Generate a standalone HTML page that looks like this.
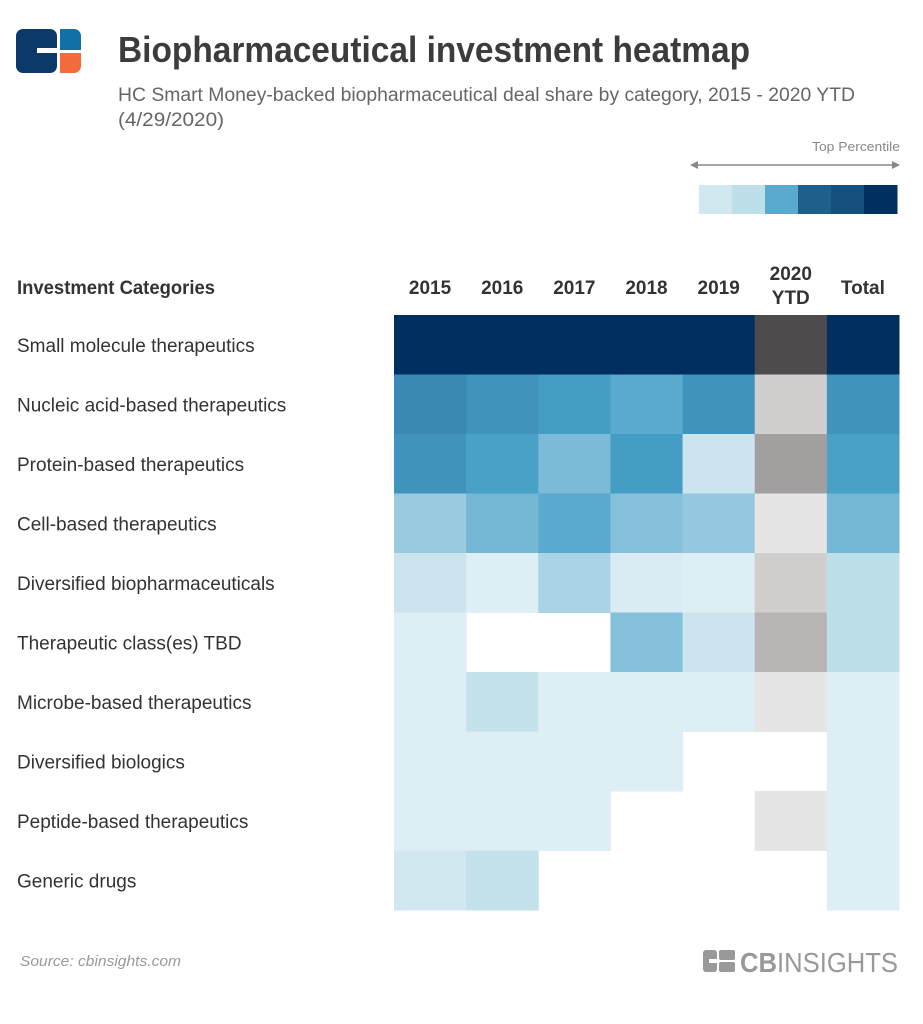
<!DOCTYPE html>
<html><head><meta charset="utf-8"><style>
html,body{margin:0;padding:0;background:#fff;}
svg{display:block;font-family:"Liberation Sans",sans-serif;}
</style></head><body>
<svg id="chart" width="923" height="1024" viewBox="0 0 923 1024">
  <g>
    <rect x="16" y="29" width="41" height="44" rx="7" fill="#0b3a6a"/>
    <rect x="37" y="48" width="21" height="5" fill="#fff"/>
    <path d="M60 29 h14 a7 7 0 0 1 7 7 v14 h-21 z" fill="#1170a8"/>
    <path d="M60 53 h21 v13 a7 7 0 0 1 -7 7 h-14 z" fill="#f26b3a"/>
  </g>
  <text x="118" y="62" font-size="36" font-weight="bold" fill="#3c3c3c" textLength="632" lengthAdjust="spacingAndGlyphs">Biopharmaceutical investment heatmap</text>
  <text x="118" y="101" font-size="19" fill="#666" textLength="737" lengthAdjust="spacingAndGlyphs">HC Smart Money-backed biopharmaceutical deal share by category, 2015 - 2020 YTD</text>
  <text x="118" y="126" font-size="19" fill="#666" textLength="106" lengthAdjust="spacingAndGlyphs">(4/29/2020)</text>

  <g>
    <text x="900" y="151" font-size="13" fill="#888" text-anchor="end" textLength="88" lengthAdjust="spacingAndGlyphs">Top Percentile</text>
    <line x1="696" y1="165" x2="894" y2="165" stroke="#888" stroke-width="1.5"/>
    <path d="M690 165 l8 -4 v8 z M900 165 l-8 -4 v8 z" fill="#888"/>
    <g id="legendBoxes"></g>
  </g>

  <g id="grid"></g>
  <g id="labels"></g>

  <text x="20" y="966" font-size="15" font-style="italic" fill="#999" textLength="161" lengthAdjust="spacingAndGlyphs">Source: cbinsights.com</text>
  <g>
    <rect x="703" y="950" width="14" height="22" rx="3" fill="#999"/>
    <rect x="719" y="950" width="16" height="10" rx="2" fill="#999"/>
    <rect x="719" y="962" width="16" height="10" rx="2" fill="#999"/>
    <rect x="709" y="959" width="10" height="4" fill="#fff"/>
    <text x="740" y="972" font-size="28" fill="#999" textLength="158" lengthAdjust="spacingAndGlyphs"><tspan font-weight="bold">CB</tspan>INSIGHTS</text>
  </g>
</svg>
<script>
const categories = ["Small molecule therapeutics","Nucleic acid-based therapeutics","Protein-based therapeutics","Cell-based therapeutics","Diversified biopharmaceuticals","Therapeutic class(es) TBD","Microbe-based therapeutics","Diversified biologics","Peptide-based therapeutics","Generic drugs"];
const years = ["2015","2016","2017","2018","2019","2020 YTD","Total"];
// intensity values (null = no deals), columns follow `years`
const v2015 = [100,70,65,35,18,10,10,10,10,15];
const v2016 = [100,65,60,47,10,null,20,10,10,20];
const v2017 = [100,62,45,55,30,null,10,10,10,null];
const v2018 = [100,55,62,42,12,42,10,10,null,null];
const v2019 = [100,65,18,36,10,18,10,null,null,null];
const v2020 = [100,30,50,15,30,40,15,null,15,null];
const vTotal = [100,65,60,47,22,22,10,10,10,10];
const series = [v2015,v2016,v2017,v2018,v2019,v2020,vTotal];
const legendLevels = [15,22,55,80,90,100];

const blueStops = [[10,"#ddeef5"],[18,"#cce4ee"],[22,"#bcdfea"],[30,"#aad3e5"],[36,"#95c8df"],[42,"#84c0da"],[47,"#75b8d6"],[55,"#5aaacf"],[62,"#449dc5"],[65,"#3f93bc"],[70,"#3a88b3"],[80,"#1e5f8c"],[90,"#144f7e"],[100,"#00305f"]];
const greyStops = [[15,"#e5e5e5"],[30,"#d0cfce"],[40,"#b8b4b4"],[50,"#a29f9f"],[100,"#4d4b4b"]];
function hex(c){return [1,3,5].map(i=>parseInt(c.substr(i,2),16));}
function scale(stops,v){
  if(v<=stops[0][0]) return stops[0][1];
  for(let i=1;i<stops.length;i++){
    if(v<=stops[i][0]){
      const [a,ca]=stops[i-1],[b,cb]=stops[i];const t=(v-a)/(b-a);
      const A=hex(ca),B=hex(cb);
      return "rgb("+A.map((x,k)=>Math.round(x+(B[k]-x)*t)).join(",")+")";
    }
  }
  return stops[stops.length-1][1];
}
const NS="http://www.w3.org/2000/svg";
const x0=394,x1=899,y0=315,y1=910;
const cw=(x1-x0)/years.length, rh=(y1-y0)/categories.length;
const xPos=i=>x0+i*cw, yPos=j=>y0+j*rh;
const grid=document.getElementById("grid"), labels=document.getElementById("labels");
function mk(tag,attrs,parent){const e=document.createElementNS(NS,tag);for(const k in attrs)e.setAttribute(k,attrs[k]);parent.appendChild(e);return e;}

series.forEach((col,i)=>{
  col.forEach((v,j)=>{
    if(v===null) return;
    const r=mk("rect",{x:xPos(i),y:yPos(j),width:cw+0.5,height:rh+0.5,fill:i===5?scale(greyStops,v):scale(blueStops,v)},grid);
    
    
  });
});
const h=mk("text",{x:17,y:294,"font-size":19,"font-weight":"bold",fill:"#333",textLength:198,lengthAdjust:"spacingAndGlyphs"},labels);
h.textContent="Investment Categories";


years.forEach((y,i)=>{
  const cx=xPos(i)+cw/2;
  const parts=y.split(" ");
  parts.forEach((p,k)=>{
    const t=mk("text",{x:cx,y:parts.length>1?(280+k*24):294,"font-size":19,"font-weight":"bold",fill:"#333","text-anchor":"middle"},labels);
    t.textContent=p;
    
    
  });
});
categories.forEach((c,j)=>{
  const t=mk("text",{x:17,y:yPos(j)+rh/2+7,"font-size":19,fill:"#333"},labels);
  t.textContent=c;
  
  
});
const lg=document.getElementById("legendBoxes");
legendLevels.forEach((v,i)=>{
  const r=mk("rect",{x:699+i*33,y:185,width:33.5,height:29,fill:scale(blueStops,v)},lg);
  
  
});
</script>
</body></html>
